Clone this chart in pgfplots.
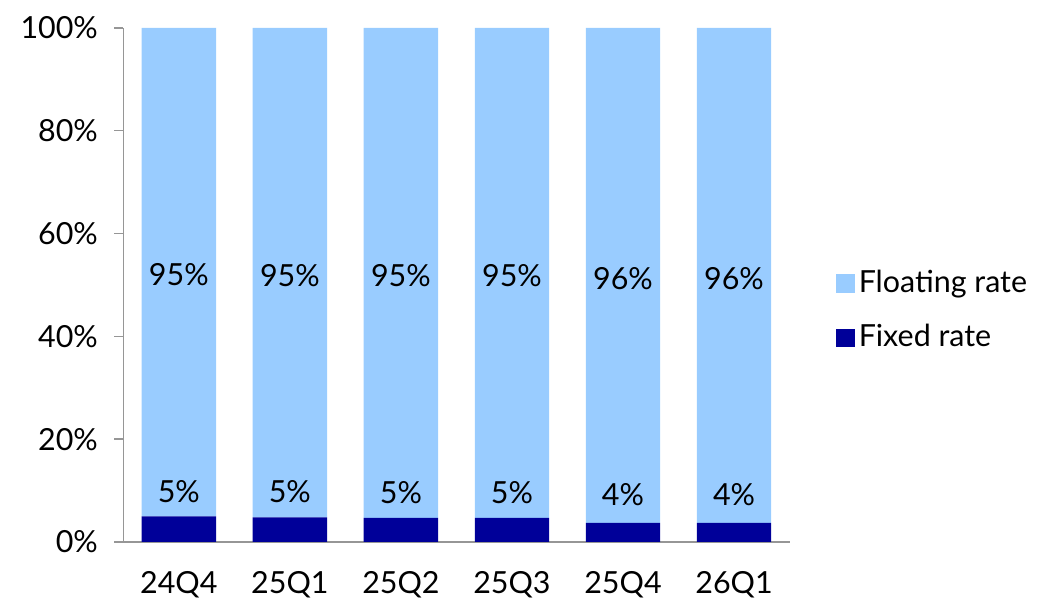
\documentclass[border=0pt]{standalone}
\usepackage{pgfplots}
\pgfplotsset{compat=1.18}
\usepackage{pgfplotstable}
\usepackage{fontspec}
\setmainfont{Lato}
\definecolor{lightblu}{RGB}{153,204,255}
\definecolor{darkblu}{RGB}{0,0,153}
\definecolor{axgray}{RGB}{150,150,150}
\pgfplotstableread{
x fixed fixlab floating floatlab
0 5.0 5\% 95.0 95\%
1 4.8 5\% 95.2 95\%
2 4.7 5\% 95.3 95\%
3 4.7 5\% 95.3 95\%
4 3.7 4\% 96.3 96\%
5 3.7 4\% 96.3 96\%
}\datatable
\begin{document}
\fontsize{15.3pt}{17pt}\selectfont
\begin{tikzpicture}
\begin{axis}[
  name=ax,
  scale only axis,
  width=335pt, height=258.5pt,
  ybar stacked,
  bar width=0.67,
  xmin=-0.5, xmax=5.5,
  ymin=0, ymax=100,
  axis x line*=bottom,
  axis y line*=left,
  axis line style={axgray, line width=0.8pt},
  xtick=data,
  xticklabels={24Q4,25Q1,25Q2,25Q3,25Q4,26Q1},
  x tick style={draw=none},
  ytick={0,20,40,60,80,100},
  yticklabel={\pgfmathprintnumber{\tick}\%},
  /pgf/number format/assume math mode=true,
  tick align=outside,
  y tick style={axgray, line width=0.8pt},
  major tick length=4.5pt,
  ticklabel style={font=\fontsize{15.3pt}{17pt}\selectfont, text=black},
  yticklabel style={xshift=-3pt},
  xticklabel style={yshift=-5pt},
  clip=false,
  legend style={draw=none, fill=none, at={(1.06,0.45)}, anchor=west,
    font=\fontsize{15.3pt}{17pt}\selectfont, row sep=10pt,
    /tikz/every even column/.append style={column sep=2pt}},
  legend cell align=left,
  reverse legend,
  legend image code/.code={\fill[#1] (0pt,-4.75pt) rectangle (9.5pt,4.75pt);},
]
\addplot[fill=darkblu, draw=none,
  nodes near coords, point meta=explicit symbolic,
  every node near coord/.append style={text=black, font=\fontsize{15.3pt}{17pt}\selectfont, anchor=south, yshift=8pt}]
  table[x=x, y=fixed, meta=fixlab]{\datatable};
\addlegendentry{Fixed rate}
\addplot[fill=lightblu, draw=none,
  nodes near coords, point meta=explicit symbolic,
  every node near coord/.append style={text=black, font=\fontsize{15.3pt}{17pt}\selectfont, anchor=center, yshift=-1.5pt}]
  table[x=x, y=floating, meta=floatlab]{\datatable};
\addlegendentry{Floating rate}
\end{axis}
\path (ax.south west) ++(-62pt,-27.5pt) rectangle ++(518.5pt,300pt);
\end{tikzpicture}
\end{document}
